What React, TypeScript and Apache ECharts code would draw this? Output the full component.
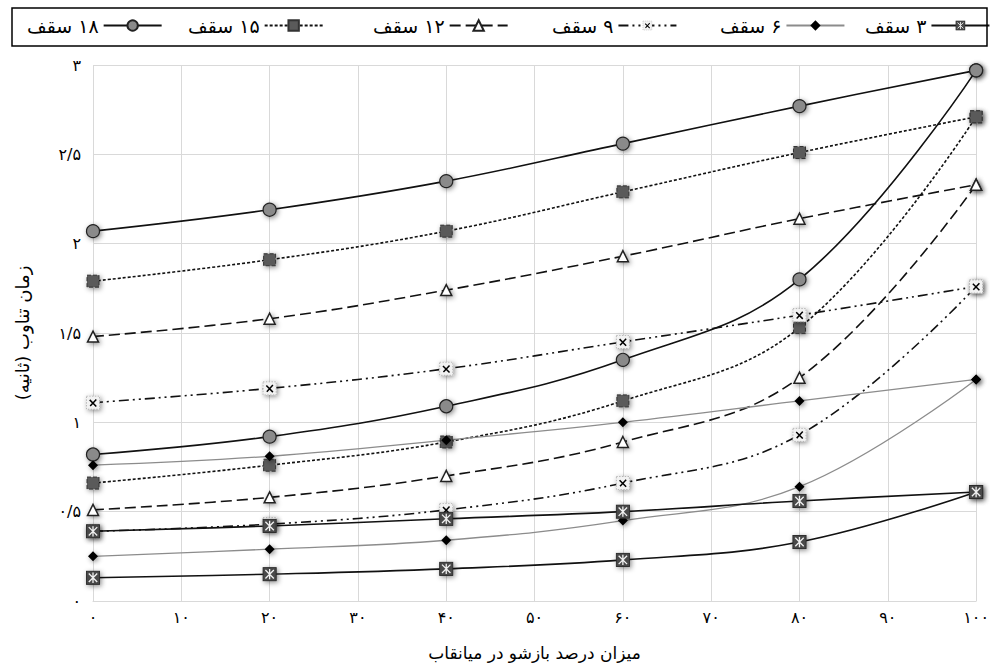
import React, { useEffect, useRef } from "react";
import * as echarts from "echarts";

// ---------- data ----------
const xValues = [0, 20, 40, 60, 80, 100];
const xTickLabels = ["۰", "۱۰", "۲۰", "۳۰", "۴۰", "۵۰", "۶۰", "۷۰", "۸۰", "۹۰", "۱۰۰"];
const yTickLabels = ["۰", "۰/۵", "۱", "۱/۵", "۲", "۲/۵", "۳"];

const seriesNames = ["۱۸ سقف", "۱۵ سقف", "۱۲ سقف", "۹ سقف", "۶ سقف", "۳ سقف"];

const upper18 = [2.07, 2.19, 2.35, 2.56, 2.77, 2.97];
const lower18 = [0.82, 0.92, 1.09, 1.35, 1.8, 2.97];
const upper15 = [1.79, 1.91, 2.07, 2.29, 2.51, 2.71];
const lower15 = [0.66, 0.76, 0.89, 1.12, 1.53, 2.71];
const upper12 = [1.48, 1.58, 1.74, 1.93, 2.14, 2.33];
const lower12 = [0.51, 0.58, 0.7, 0.89, 1.25, 2.33];
const upper9 = [1.11, 1.19, 1.3, 1.45, 1.6, 1.76];
const lower9 = [0.39, 0.43, 0.51, 0.66, 0.93, 1.76];
const upper6 = [0.76, 0.81, 0.9, 1.0, 1.12, 1.24];
const lower6 = [0.25, 0.29, 0.34, 0.45, 0.64, 1.24];
const upper3 = [0.39, 0.42, 0.46, 0.5, 0.56, 0.61];
const lower3 = [0.13, 0.15, 0.18, 0.23, 0.33, 0.61];

const xAxisTitle = "میزان درصد بازشو در میانقاب";
const yAxisTitle = "زمان تناوب (ثانیه)";

// ---------- styling ----------
const FONT = "'DejaVu Sans', sans-serif";
const RLM = "\u200F";

const svgUri = (s: string) => "image://data:image/svg+xml;utf8," + encodeURIComponent(s);

const xMarker = svgUri(
  "<svg xmlns='http://www.w3.org/2000/svg' width='16' height='16' viewBox='0 0 16 16'>" +
    "<rect x='1' y='1' width='14' height='14' fill='#f2f2f2' stroke='#b0b0b0' stroke-width='1' stroke-dasharray='1.5,1.5'/>" +
    "<path d='M4.5 5 L11.5 12 M11.5 4.5 L5 11.5' stroke='#000' stroke-width='1.6'/></svg>"
);
const starMarker = svgUri(
  "<svg xmlns='http://www.w3.org/2000/svg' width='16' height='16' viewBox='0 0 16 16'>" +
    "<rect x='1' y='1' width='14' height='14' fill='#4a4a4a' stroke='#2a2a2a' stroke-width='1'/>" +
    "<path d='M3.5 3.5 L12.5 12.5 M12.5 3.5 L3.5 12.5 M8 2.5 L8 13.5' stroke='#f0f0f0' stroke-width='1.4'/></svg>"
);

const shadow = {
  shadowBlur: 5,
  shadowColor: "rgba(0,0,0,0.45)",
  shadowOffsetX: 1.5,
  shadowOffsetY: 1.5,
};

type Style = {
  symbol: string;
  symbolSize: number;
  item: any;
  line: any;
};

const styles: Style[] = [
  {
    symbol: "circle",
    symbolSize: 13,
    item: { color: "#8a8a8a", borderColor: "#222", borderWidth: 1.2 },
    line: { color: "#111", width: 1.6, type: "solid" },
  },
  {
    symbol: "rect",
    symbolSize: 12,
    item: { color: "#5a5a5a", borderColor: "#333", borderWidth: 1, borderType: "dashed" },
    line: { color: "#111", width: 1.6, type: [3, 2] },
  },
  {
    symbol: "triangle",
    symbolSize: 11,
    item: { color: "#ffffff", borderColor: "#222", borderWidth: 1.5 },
    line: { color: "#111", width: 1.6, type: [11, 5] },
  },
  {
    symbol: xMarker,
    symbolSize: 15,
    item: { color: "#000" },
    line: { color: "#111", width: 1.6, type: [10, 4, 2, 4, 2, 4] },
  },
  {
    symbol: "diamond",
    symbolSize: 10,
    item: { color: "#000", borderWidth: 0 },
    line: { color: "#8c8c8c", width: 1.3, type: "solid" },
  },
  {
    symbol: starMarker,
    symbolSize: 15,
    item: { color: "#222" },
    line: { color: "#111", width: 1.6, type: "solid" },
  },
];

const seriesData: [number[], number[]][] = [
  [upper18, lower18],
  [upper15, lower15],
  [upper12, lower12],
  [upper9, lower9],
  [upper6, lower6],
  [upper3, lower3],
];

const legendLefts = [27, 188, 373, 552, 720, 865];

export default function App() {
  const ref = useRef<HTMLDivElement>(null);
  useEffect(() => {
    const chart = echarts.init(ref.current!, null, { renderer: "svg" });
    const names = seriesNames.map((n) => RLM + n);
    const series: any[] = [];
    seriesData.forEach((pair, i) => {
      pair.forEach((vals) => {
        series.push({
          type: "line",
          name: names[i],
          data: xValues.map((x, k) => [x, vals[k]]),
          smooth: 0.4,
          symbol: styles[i].symbol,
          symbolSize: styles[i].symbolSize,
          showSymbol: true,
          itemStyle: { ...styles[i].item, ...shadow },
          lineStyle: styles[i].line,
          emphasis: { disabled: true },
        });
      });
    });
    const option: any = {
      animation: false,
      backgroundColor: "#ffffff",
      grid: { left: 93, right: 14, top: 65, bottom: 69 },
      graphic: [
        {
          type: "rect",
          shape: { x: 12, y: 8, width: 975, height: 38 },
          style: { fill: "none", stroke: "#000", lineWidth: 1.5 },
          z: 10,
        },
      ],
      legend: names.map((n, i) => ({
        data: [n],
        left: legendLefts[i],
        top: 16,
        align: "right",
        itemWidth: 58,
        itemHeight: 13,
        padding: 0,
        selectedMode: false,
        textStyle: { fontFamily: FONT, fontSize: 19, color: "#000" },
      })),
      xAxis: {
        type: "value",
        min: 0,
        max: 100,
        interval: 10,
        name: xAxisTitle,
        nameLocation: "middle",
        nameGap: 43,
        nameTextStyle: { fontFamily: FONT, fontSize: 17, color: "#000" },
        axisLine: { show: true, lineStyle: { color: "#d9d9d9", width: 1 } },
        axisTick: { show: false },
        splitLine: { show: true, lineStyle: { color: "#d9d9d9", width: 1 } },
        axisLabel: {
          margin: 8,
          fontFamily: FONT,
          fontSize: 16,
          color: "#000",
          formatter: (v: number) => xTickLabels[Math.round(v / 10)] ?? "",
        },
      },
      yAxis: {
        type: "value",
        min: 0,
        max: 3,
        interval: 0.5,
        name: RLM + yAxisTitle + RLM,
        nameLocation: "middle",
        nameRotate: 90,
        nameGap: 62,
        nameTextStyle: { fontFamily: FONT, fontSize: 18, color: "#000" },
        axisLine: { show: false },
        axisTick: { show: false },
        splitLine: { show: true, lineStyle: { color: "#d9d9d9", width: 1 } },
        axisLabel: {
          margin: 12,
          fontFamily: FONT,
          fontSize: 16,
          color: "#000",
          formatter: (v: number) => yTickLabels[Math.round(v / 0.5)] ?? "",
        },
      },
      series,
    };
    chart.setOption(option);
    return () => chart.dispose();
  }, []);
  return (
    <div
      ref={ref}
      style={{ position: "fixed", left: 0, top: 0, width: 992, height: 670, background: "#fff" }}
    />
  );
}
